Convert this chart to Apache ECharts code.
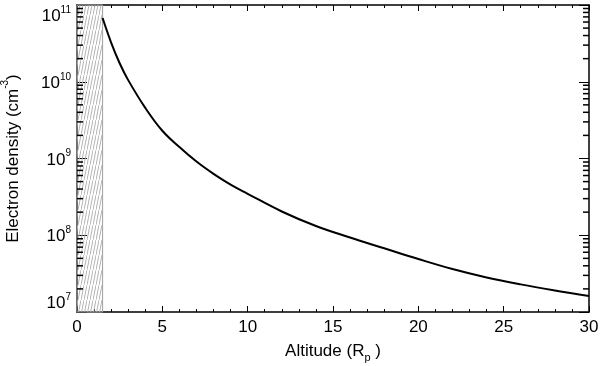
<!DOCTYPE html>
<html>
<head>
<meta charset="utf-8">
<script src="https://cdn.jsdelivr.net/npm/echarts@6/dist/echarts.min.js"></script>
<style>
  html, body { margin: 0; padding: 0; background: #fff; }
  #main { width: 600px; height: 366px; }
</style>
</head>
<body>
<div id="main"></div>
<script>
// altitude in planet radii, density in cm^-3
const altitude = [1.5, 2, 2.5, 3, 4, 5, 6, 7, 8, 9, 10, 12, 14, 16, 18, 20, 22, 24, 26, 28, 30];
const density = [6.76e10, 3.24e10, 1.74e10, 1.05e10, 4.57e9, 2.3e9, 1.41e9, 9.12e8, 6.31e8, 4.57e8,
  3.47e8, 2.04e8, 1.32e8, 9.33e7, 6.76e7, 4.9e7, 3.63e7, 2.82e7, 2.29e7, 1.91e7, 1.62e7];
const hatchEdge = 1.5; // planet body, hatched
const xTicks = [0, 5, 10, 15, 20, 25, 30];
const yDecades = [7, 8, 9, 10, 11];

const FONT = '"Liberation Sans", Arial, sans-serif';

// minor ticks for the log axis: 2..9 in each decade
const yMinor = [];
for (let d = 7; d < 11; d++) {
  for (let m = 2; m <= 9; m++) yMinor.push(m * Math.pow(10, d));
}

// hatch pattern
function makeHatch() {
  const c = document.createElement('canvas');
  c.width = 3;
  c.height = 15;
  const ctx = c.getContext('2d');
  ctx.strokeStyle = '#b4b4b4';
  ctx.lineWidth = 1;
  ctx.beginPath();
  ctx.moveTo(-1, 20);
  ctx.lineTo(4, -5);
  ctx.stroke();
  return c;
}

const chart = echarts.init(document.getElementById('main'));

const supRich = {
  b: { fontFamily: FONT, fontSize: 17, color: '#000', verticalAlign: 'bottom', lineHeight: 20 },
  s: { fontFamily: FONT, fontSize: 10, color: '#000', verticalAlign: 'top', lineHeight: 20 }
};

function logLabel(v) {
  const e = Math.round(Math.log10(v));
  return '{b|10}{s|' + e + '}';
}

const yBase = {
  type: 'log',
  logBase: 10,
  min: Math.pow(10, yDecades[0]),
  max: Math.pow(10, yDecades[yDecades.length - 1]),
  splitLine: { show: false },
  axisLine: { show: true, onZero: false, lineStyle: { color: '#000', width: 1.5 } },
  axisTick: { show: true, inside: true, length: 10, lineStyle: { color: '#000' } },
  minorTick: { show: false }
};

const xBase = {
  type: 'value',
  min: xTicks[0],
  max: xTicks[xTicks.length - 1],
  interval: 5,
  splitLine: { show: false },
  axisLine: { show: true, onZero: false, lineStyle: { color: '#000', width: 1.5 } },
  axisTick: { show: true, inside: true, length: 6, lineStyle: { color: '#000' } },
  minorTick: { show: true, splitNumber: 5, length: 3, lineStyle: { color: '#000' } }
};

// short horizontal marks standing in for log minor ticks
function minorTickSeries(x, offset) {
  return {
    type: 'scatter',
    xAxisIndex: 0,
    yAxisIndex: 0,
    silent: true,
    clip: false,
    symbol: 'rect',
    symbolSize: [6, 1.5],
    symbolOffset: [offset, 0],
    itemStyle: { color: '#000', opacity: 1 },
    data: yMinor.map(v => [x, v]),
    z: 10
  };
}

chart.setOption({
  animation: false,
  backgroundColor: '#fff',
  grid: { left: 77, right: 11, top: 5, bottom: 54, outerBoundsMode: 'none', containLabel: false },
  xAxis: [
    Object.assign({}, xBase, {
      position: 'bottom',
      name: '{t|Altitude (R}{sub|p}{t| )}',
      nameLocation: 'middle',
      nameGap: 31,
      nameTextStyle: {
        rich: {
          t: { fontFamily: FONT, fontSize: 17, color: '#000', lineHeight: 20, verticalAlign: 'top' },
          sub: { fontFamily: FONT, fontSize: 11, color: '#000', lineHeight: 20, verticalAlign: 'bottom' }
        }
      },
      axisLabel: { fontFamily: FONT, fontSize: 17, color: '#000', margin: 7 }
    }),
    Object.assign({}, xBase, { position: 'top', axisLabel: { show: false } })
  ],
  yAxis: [
    Object.assign({}, yBase, {
      position: 'left',
      name: '{t|Electron density (cm}{s|-3}{t|)}',
      nameLocation: 'middle',
      nameGap: 55,
      nameTextStyle: {
        rich: {
          t: { fontFamily: FONT, fontSize: 17, color: '#000', lineHeight: 22, verticalAlign: 'bottom' },
          s: { fontFamily: FONT, fontSize: 10, color: '#000', lineHeight: 22, verticalAlign: 'top' }
        }
      },
      axisLabel: {
        formatter: logLabel,
        rich: supRich,
        margin: 6,
        verticalAlignMaxLabel: 'top',
        verticalAlignMinLabel: 'bottom'
      }
    }),
    Object.assign({}, yBase, { position: 'right', axisLabel: { show: false } })
  ],
  series: [
    {
      type: 'line',
      data: altitude.map((x, i) => [x, density[i]]),
      smooth: 0.4,
      showSymbol: false,
      lineStyle: { color: '#000', width: 2 },
      z: 3,
      markArea: {
        silent: true,
        itemStyle: {
          color: { image: makeHatch(), repeat: 'repeat' },
          borderColor: '#a0a0a0',
          borderWidth: 1
        },
        data: [[{ xAxis: 0 }, { xAxis: hatchEdge }]]
      }
    },
    minorTickSeries(xTicks[0], 3),
    minorTickSeries(xTicks[xTicks.length - 1], -3)
  ]
});
</script>
</body>
</html>
